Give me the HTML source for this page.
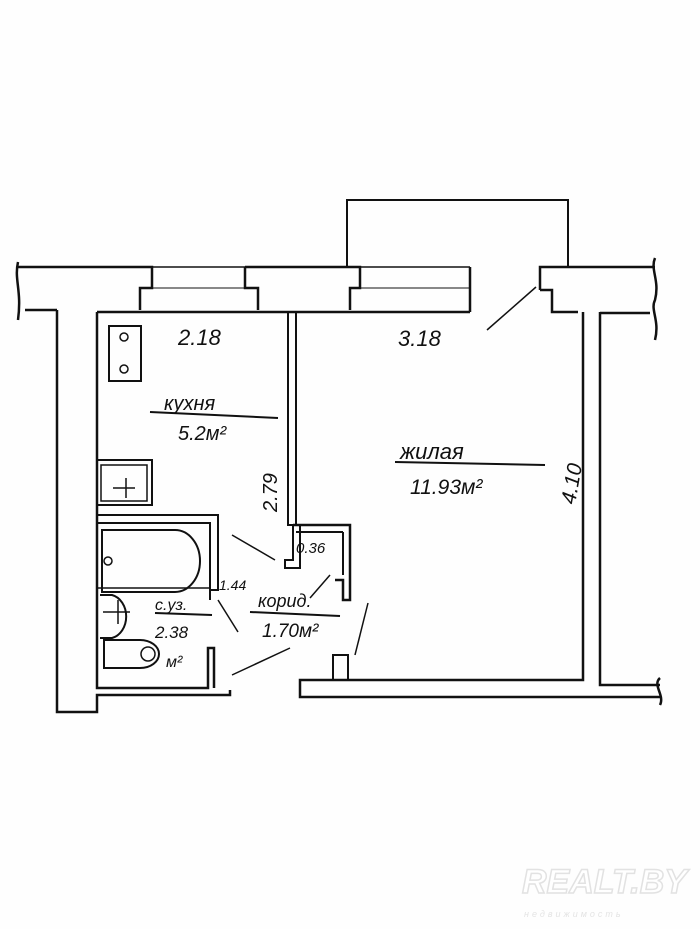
<!DOCTYPE html>
<html><head><meta charset="utf-8"><style>
body{margin:0;background:#fff}
svg{display:block}
text{font-family:"Liberation Sans",sans-serif;font-style:italic;fill:#111}
</style></head><body>
<svg width="700" height="929" viewBox="0 0 700 929" xmlns="http://www.w3.org/2000/svg">
<rect width="700" height="929" fill="#fefefe"/>
<g fill="none" stroke="#111" stroke-width="2.5" stroke-linejoin="miter">
<polyline points="347,268 347,200 568,200 568,268" stroke-width="2"/>
<polyline points="18,267 152,267 152,288 140,288 140,310"/>
<line x1="152" y1="267" x2="245" y2="267" stroke-width="1.5"/>
<line x1="152" y1="288" x2="245" y2="288" stroke-width="1"/>
<polyline points="245,267 360,267 360,288 350,288 350,310"/>
<polyline points="245,267 245,288 258,288 258,310"/>
<line x1="360" y1="267" x2="470" y2="267" stroke-width="1.5"/>
<line x1="360" y1="288" x2="470" y2="288" stroke-width="1"/>
<polyline points="470,267 470,312"/>
<polyline points="540,290 540,267 655,267"/>
<polyline points="540,290 552,290 552,312 578,312"/>
<path d="M18,262 C14,280 22,290 18,320 M655,258 C650,270 660,280 655,300 C650,310 660,320 655,340"/>
<line x1="25" y1="310" x2="57" y2="310"/>
<line x1="97" y1="312" x2="470" y2="312"/>
<line x1="600" y1="313" x2="650" y2="313"/>
<polyline points="57,310 57,712 97,712 97,695 230,695 230,690"/>
<polyline points="97,312 97,688 208,688 208,648 214,648 214,688"/>
<polyline points="288,313 288,525 300,525 300,568 285,568 285,560 293,560 293,525" stroke-width="2"/>
<line x1="296" y1="313" x2="296" y2="525" stroke-width="2"/>
<polyline points="293,525 350,525 350,600 343,600 343,580 335,580"/>
<line x1="296" y1="532" x2="343" y2="532" stroke-width="2"/>
<line x1="343" y1="532" x2="343" y2="575" stroke-width="2"/>
<polyline points="97,515 218,515 218,590 210,590" stroke-width="2"/>
<polyline points="97,523 210,523 210,600" stroke-width="2"/>
<line x1="97" y1="588" x2="210" y2="588" stroke-width="1.5"/>
<polyline points="583,312 583,680 300,680 300,697 660,697"/>
<polyline points="600,312 600,685 660,685"/>
<path d="M660,678 C652,685 665,695 660,705"/>
<polyline points="333,680 333,655 348,655 348,680" stroke-width="2"/>
<line x1="487" y1="330" x2="536" y2="287" stroke-width="1.5"/>
<line x1="232" y1="535" x2="275" y2="560" stroke-width="1.5"/>
<line x1="310" y1="598" x2="330" y2="575" stroke-width="1.5"/>
<line x1="355" y1="655" x2="368" y2="603" stroke-width="1.5"/>
<line x1="218" y1="600" x2="238" y2="632" stroke-width="1.5"/>
<line x1="232" y1="675" x2="290" y2="648" stroke-width="1.5"/>
<rect x="109" y="326" width="32" height="55" stroke-width="2"/>
<rect x="97" y="460" width="55" height="45" stroke-width="2"/>
<rect x="101" y="465" width="46" height="36" stroke-width="1.5"/>
<path d="M102,530 L175,530 A25,31 0 0 1 175,592 L102,592 Z" stroke-width="2"/>
<path d="M100,595 L112,595 A18,22 0 0 1 112,638 L100,638" stroke-width="2"/>
<path d="M104,640 L140,640 A19,14 0 0 1 140,668 L104,668 Z" stroke-width="2"/>
<line x1="150" y1="412" x2="278" y2="418" stroke-width="2"/>
<line x1="395" y1="462" x2="545" y2="465" stroke-width="2"/>
<line x1="155" y1="613" x2="212" y2="615" stroke-width="2"/>
<line x1="250" y1="612" x2="340" y2="616" stroke-width="2"/>
</g>
<g fill="none" stroke="#111" stroke-width="1.5">
<circle cx="124" cy="337" r="4"/><circle cx="124" cy="369" r="4"/>
<line x1="113" y1="488" x2="135" y2="488"/><line x1="126" y1="478" x2="126" y2="498"/>
<circle cx="108" cy="561" r="4"/>
<line x1="103" y1="612" x2="130" y2="612"/><line x1="118" y1="600" x2="118" y2="624"/>
<circle cx="148" cy="654" r="7"/>
</g>
<text x="178" y="345" font-size="22">2.18</text>
<text x="398" y="346" font-size="22">3.18</text>
<text x="164" y="410" font-size="20">кухня</text>
<text x="178" y="440" font-size="20">5.2м²</text>
<text x="400" y="459" font-size="22">жилая</text>
<text x="410" y="494" font-size="21">11.93м²</text>
<text x="0" y="0" font-size="20" transform="translate(277,512) rotate(-90)">2.79</text>
<text x="0" y="0" font-size="21" transform="translate(575,505) rotate(-80)">4.10</text>
<text x="296" y="553" font-size="15">0.36</text>
<text x="219" y="590" font-size="14">1.44</text>
<text x="155" y="610" font-size="16">с.уз.</text>
<text x="155" y="638" font-size="17">2.38</text>
<text x="166" y="667" font-size="16">м²</text>
<text x="258" y="607" font-size="18">корид.</text>
<text x="262" y="637" font-size="19">1.70м²</text>
<text x="522" y="893" font-size="34" font-weight="bold" font-style="normal" style="fill:#fff" stroke="#e2e2e2" stroke-width="1.5">REALT.BY</text>
<text x="524" y="917" font-size="9" font-style="normal" style="fill:#e4e4e4" letter-spacing="3">недвижимость</text>
</svg>
</body></html>
